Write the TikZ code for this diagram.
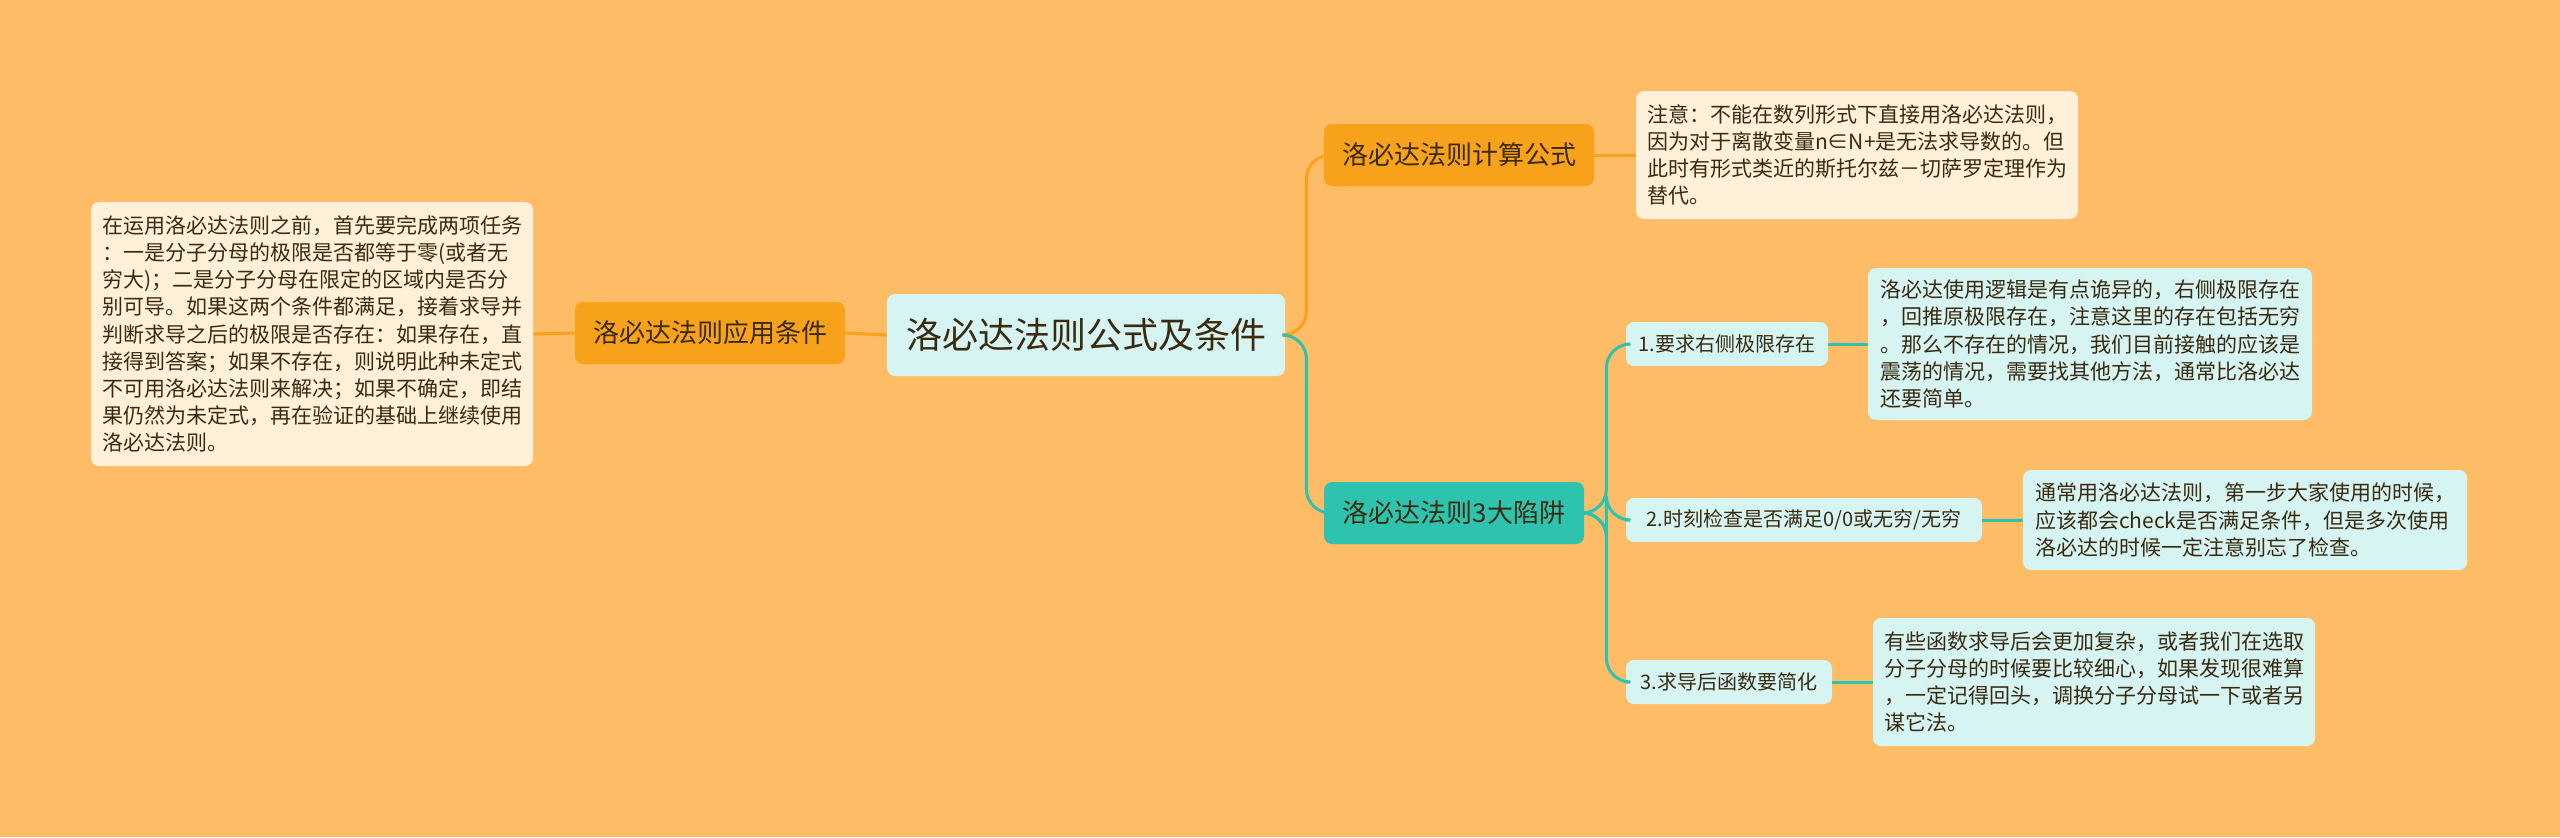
\documentclass[tikz,border=0pt]{standalone}
\usepackage{fontspec}
\setmainfont{Noto Sans CJK SC}
\usetikzlibrary{positioning}
\definecolor{bgc}{HTML}{FFBC66}
\definecolor{orangec}{HTML}{F8A21C}
\definecolor{tealc}{HTML}{2EC3AF}
\definecolor{cyanc}{HTML}{D5F4F2}
\definecolor{creamc}{HTML}{FFF0DA}
\definecolor{txtc}{HTML}{3A2A10}
\begin{document}
\begin{tikzpicture}[
        x=0.5pt,
        y=-0.5pt,
        every node/.style={rounded corners=4pt, inner sep=0pt, text=txtc},
        rootbox/.style={fill=cyanc, minimum width=199pt, minimum height=41pt, font=\fontsize{18}{20}\selectfont},
        branchbox/.style={fill=orangec, minimum height=31pt, font=\fontsize{13}{15}\selectfont},
        trapbox/.style={fill=tealc, minimum height=31pt, font=\fontsize{13}{15}\selectfont},
        itembox/.style={fill=cyanc, minimum height=22pt, font=\fontsize{10}{12}\selectfont},
        notebox/.style={fill=creamc, align=left, inner sep=2pt, font=\fontsize{10.5}{13.6}\selectfont},
        tipbox/.style={fill=cyanc, align=left, inner sep=2pt, font=\fontsize{10.5}{13.6}\selectfont},
        orangeline/.style={draw=orangec, line width=1.5pt, rounded corners=12pt},
        tealline/.style={draw=tealc, line width=1.5pt, rounded corners=12pt}
    ]
    \fill[bgc] (0,0) rectangle (2560,837);
    \useasboundingbox (0,0) rectangle (2560,837);

    \node[rootbox] (root) at (1086,335) {洛必达法则公式及条件};
    \node[branchbox, minimum width=135pt] (cond) at (710,333) {洛必达法则应用条件};
    \node[branchbox, minimum width=135pt] (calc) at (1459,155) {洛必达法则计算公式};
    \node[trapbox, minimum width=130pt] (trap) at (1454,513) {洛必达法则3大陷阱};

    \node[notebox, minimum width=221pt, minimum height=132pt] (condnote) at (312,334) {在运用洛必达法则之前，首先要完成两项任务\\：一是分子分母的极限是否都等于零(或者无\\穷大)；二是分子分母在限定的区域内是否分\\别可导。如果这两个条件都满足，接着求导并\\判断求导之后的极限是否存在：如果存在，直\\接得到答案；如果不存在，则说明此种未定式\\不可用洛必达法则来解决；如果不确定，即结\\果仍然为未定式，再在验证的基础上继续使用\\洛必达法则。};
    \node[notebox, minimum width=221pt, minimum height=64pt] (calcnote) at (1857,155) {注意：不能在数列形式下直接用洛必达法则，\\因为对于离散变量n∈N+是无法求导数的。但\\此时有形式类近的斯托尔兹－切萨罗定理作为\\替代。};

    \node[itembox, minimum width=101pt] (i1) at (1727,344) {1.要求右侧极限存在};
    \node[itembox, minimum width=178pt] (i2) at (1804,520) {2.时刻检查是否满足0/0或无穷/无穷};
    \node[itembox, minimum width=103pt] (i3) at (1729,682) {3.求导后函数要简化};

    \node[tipbox, minimum width=222pt, minimum height=76pt] (tip1) at (2090,344) {洛必达使用逻辑是有点诡异的，右侧极限存在\\，回推原极限存在，注意这里的存在包括无穷\\。那么不存在的情况，我们目前接触的应该是\\震荡的情况，需要找其他方法，通常比洛必达\\还要简单。};
    \node[tipbox, minimum width=222pt, minimum height=50pt] (tip2) at (2245,520) {通常用洛必达法则，第一步大家使用的时候，\\应该都会check是否满足条件，但是多次使用\\洛必达的时候一定注意别忘了检查。};
    \node[tipbox, minimum width=221pt, minimum height=64pt] (tip3) at (2094,682) {有些函数求导后会更加复杂，或者我们在选取\\分子分母的时候要比较细心，如果发现很难算\\，一定记得回头，调换分子分母试一下或者另\\谋它法。};

    \draw[orangeline] (root.west) -- (cond.east);
    \draw[orangeline] (cond.west) -- (condnote.east);
    \draw[orangeline] (root.east) -- ++(21,0) |- (calc.west);
    \draw[orangeline] (calc.east) -- (calcnote.west);
    \draw[tealline] (root.east) -- ++(21,0) |- (trap.west);
    \draw[tealline] (trap.east) -- ++(22,0) |- (i1.west);
    \draw[tealline] (trap.east) -- ++(22,0) |- (i2.west);
    \draw[tealline] (trap.east) -- ++(22,0) |- (i3.west);
    \draw[tealline] (i1.east) -- (tip1.west);
    \draw[tealline] (i2.east) -- (tip2.west);
    \draw[tealline] (i3.east) -- (tip3.west);
\end{tikzpicture}
\end{document}
